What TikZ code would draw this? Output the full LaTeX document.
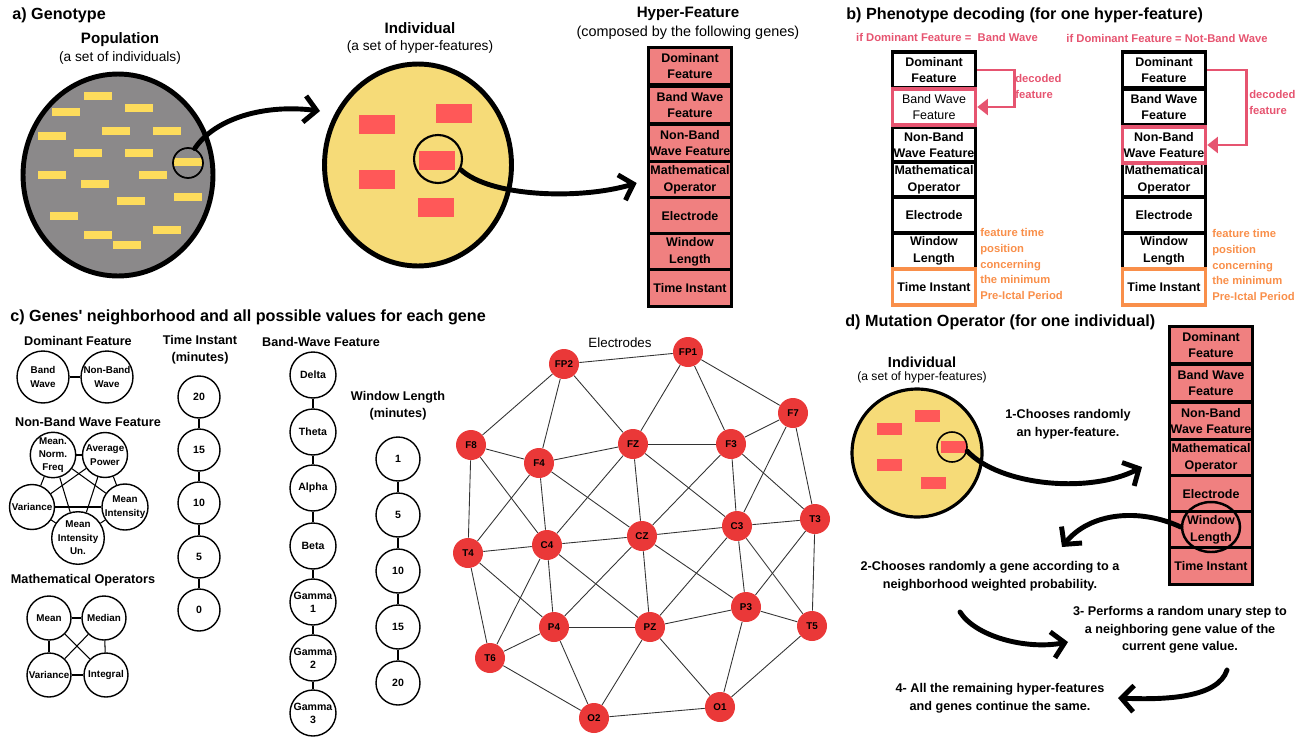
\documentclass[tikz,border=0pt]{standalone}
\usepackage{fontspec}
\setmainfont{Liberation Sans}
\usetikzlibrary{arrows.meta,shapes.geometric,positioning}

\definecolor{popgray}{RGB}{139,137,138}
\definecolor{genyellow}{RGB}{253,220,92}
\definecolor{indyellow}{RGB}{246,219,120}
\definecolor{hfred}{RGB}{255,88,88}
\definecolor{genecoral}{RGB}{240,128,128}
\definecolor{decpink}{RGB}{230,84,112}
\definecolor{timeorange}{RGB}{249,143,74}
\definecolor{elecred}{RGB}{234,56,56}

\tikzset{
  sectlbl/.style  = {anchor=west, inner sep=0, font=\bfseries\fontsize{9.2}{10}\selectfont},
  headlbl/.style  = {inner sep=0, font=\bfseries\fontsize{8.6}{10}\selectfont},
  sublbl/.style   = {inner sep=0, font=\fontsize{7.8}{9}\selectfont},
  grouplbl/.style = {inner sep=0, align=center, font=\bfseries\fontsize{7.2}{9.6}\selectfont},
  genebox/.style  = {rectangle, draw, line width=2pt, fill=genecoral, minimum width=1.66cm,
                     minimum height=0.74cm, inner sep=0, align=center,
                     font=\bfseries\fontsize{7.1}{9.4}\selectfont},
  decbox/.style   = {genebox, fill=white, minimum height=0.72cm},
  valnode/.style  = {circle, draw, line width=0.8pt, minimum size=0.88cm, inner sep=0, align=center,
                     font=\bfseries\fontsize{5.6}{7.6}\selectfont},
  elecnode/.style = {circle, fill=elecred, minimum size=0.6cm, inner sep=0,
                     font=\bfseries\fontsize{5.6}{6}\selectfont},
  glink/.style    = {line width=0.6pt},
  elink/.style    = {line width=0.5pt, black!80},
  bigarrow/.style = {line width=2.8pt, line cap=round, -{Straight Barb[length=7pt,width=15pt]}},
  decarrow/.style = {draw=decpink, line width=1.7pt, -{Triangle[length=6pt,width=9pt]}},
  notetxt/.style  = {anchor=north west, inner sep=0, align=left, font=\bfseries\fontsize{6.4}{9}\selectfont},
  steptxt/.style  = {inner sep=0, align=center, font=\bfseries\fontsize{7.2}{10}\selectfont},
}

\begin{document}
\begin{tikzpicture}[x=0.02cm, y=-0.02cm]
  \useasboundingbox (0,0) rectangle (1307,737);

  % a) genotype
  \node[sectlbl] (secA) at (12,15) {a) Genotype};
  \node[headlbl] (popT) at (120,40) {Population};
  \node[sublbl]  (popS) at (120,58) {(a set of individuals)};
  \node[ellipse, draw, line width=2.8pt, fill=popgray, minimum width=3.8cm, minimum height=4.04cm] (pop) at (118,175) {};
  \foreach \x/\y in {98/96, 66/112, 139/108, 52/136, 116/131, 167/131, 88/153, 139/153, 188/162,
                     52/175, 153/175, 95/184, 188/197, 131/201, 64/216, 167/230, 98/235, 127/245}
    \fill[genyellow] (\x-14,\y-4) rectangle (\x+14,\y+4);
  \node[circle, draw, line width=1pt, minimum size=0.6cm] (popSel) at (188,163) {};

  \node[headlbl] (indT) at (420,28) {Individual};
  \node[sublbl]  (indS) at (420,47) {(a set of hyper-features)};
  \node[ellipse, draw, line width=2.8pt, fill=indyellow, minimum width=3.74cm, minimum height=4.04cm] (ind) at (418,165) {};
  \foreach \x/\y in {377/124, 454/113, 437/160, 377/179, 436/207}
    \fill[hfred] (\x-18,\y-9.5) rectangle (\x+18,\y+9.5);
  \node[circle, draw, line width=1.2pt, minimum size=0.96cm] (indSel) at (438,159) {};

  \node[headlbl] (hypT) at (688,14) {Hyper-Feature};
  \node[sublbl, font=\fontsize{8.2}{9}\selectfont] (hypS) at (688,33) {(composed by the following genes)};
  \node[genebox] (hdom) at (690,66)  {Dominant\\Feature};
  \node[genebox] (hbw)  at (690,105) {Band Wave\\Feature};
  \node[genebox] (hnb)  at (690,143) {Non-Band\\Wave Feature};
  \node[genebox] (hmo)  at (690,180) {Mathematical\\Operator};
  \node[genebox] (hel)  at (690,216) {Electrode};
  \node[genebox] (hwl)  at (690,252) {Window\\Length};
  \node[genebox] (hti)  at (690,288) {Time Instant};

  \coordinate (indIn) at (320,111);
  \draw[bigarrow] (popSel.65) .. controls (215,118) and (265,104) .. (indIn);
  \draw[bigarrow, shorten >=6pt] (indSel.-25) .. controls (490,197) and (580,200) .. (hmo.west);

  % b) phenotype decoding
  \node[sectlbl] (secB) at (846,15) {b) Phenotype decoding (for one hyper-feature)};
  \node[inner sep=0, text=decpink, font=\bfseries\fontsize{6.4}{8}\selectfont] (ifL) at (947,37) {if Dominant Feature =~~Band Wave};
  \node[inner sep=0, text=decpink, font=\bfseries\fontsize{6.4}{8}\selectfont] (ifR) at (1167,38) {if Dominant Feature = Not-Band Wave};

  \node[decbox] (ldom) at (934,70)  {Dominant\\Feature};
  \node[decbox] (lnb)  at (934,145) {Non-Band\\Wave Feature};
  \node[decbox] (lmo)  at (934,180) {Mathematical\\Operator};
  \node[decbox] (lel)  at (934,215) {Electrode};
  \node[decbox] (lwl)  at (934,251) {Window\\Length};
  \node[decbox, draw=decpink, font=\fontsize{7.1}{9.4}\selectfont] (lbw) at (934,107) {Band Wave\\Feature};
  \node[decbox, draw=timeorange] (lti) at (934,287) {Time Instant};
  \draw[decarrow] (ldom.east) -- ++(37,0) |- (lbw.east);
  \node[notetxt, text=decpink]    (decL) at (1015,74)  {decoded\\feature};
  \node[notetxt, text=timeorange] (posL) at (980,228)  {feature time\\position\\concerning\\the minimum\\Pre-Ictal Period};

  \node[decbox] (rdom) at (1164,70)  {Dominant\\Feature};
  \node[decbox] (rbw)  at (1164,107) {Band Wave\\Feature};
  \node[decbox] (rmo)  at (1164,180) {Mathematical\\Operator};
  \node[decbox] (rel)  at (1164,215) {Electrode};
  \node[decbox] (rwl)  at (1164,251) {Window\\Length};
  \node[decbox, draw=decpink]    (rnb) at (1164,145) {Non-Band\\Wave Feature};
  \node[decbox, draw=timeorange] (rti) at (1164,287) {Time Instant};
  \draw[decarrow] (rdom.east) -- ++(39,0) |- (rnb.east);
  \node[notetxt, text=decpink]    (decR) at (1249,90)  {decoded\\feature};
  \node[notetxt, text=timeorange] (posR) at (1212,229) {feature time\\position\\concerning\\the minimum\\Pre-Ictal Period};

  % c) genes' neighborhood
  \node[sectlbl] (secC) at (10,317) {c) Genes\textquotesingle{} neighborhood and all possible values for each gene};

  \node[grouplbl] (domT) at (78,341) {Dominant Feature};
  \node[valnode, minimum size=1.04cm] (dBand) at (43,377)  {Band\\Wave};
  \node[valnode, minimum size=1.04cm] (dNon)  at (107,377) {Non-Band\\Wave};
  \draw[glink] (dBand) -- (dNon);

  \node[grouplbl] (nbT) at (88,422) {Non-Band Wave Feature};
  \node[valnode, minimum size=0.9cm] (nMNF) at (53,455)  {Mean.\\Norm.\\Freq};
  \node[valnode, minimum size=0.9cm] (nAP)  at (105,455) {Average\\Power};
  \node[valnode, minimum size=0.9cm] (nVar) at (32,507)  {Variance};
  \node[valnode, minimum size=0.9cm] (nMI)  at (125,507) {Mean\\Intensity};
  \node[valnode, minimum size=0.9cm] (nMIU) at (78,538)  {Mean\\Intensity\\Un.};
  \foreach \a/\b in {nMNF/nAP, nMNF/nVar, nMNF/nMI, nMNF/nMIU, nAP/nVar, nAP/nMI, nAP/nMIU,
                     nVar/nMI, nVar/nMIU, nMI/nMIU}
    \draw[glink] (\a) -- (\b);

  \node[grouplbl] (opT) at (83,580) {Mathematical Operators};
  \node[valnode] (oMean) at (49,618)  {Mean};
  \node[valnode] (oMed)  at (104,618) {Median};
  \node[valnode] (oVar)  at (49,675)  {Variance};
  \node[valnode] (oInt)  at (106,675) {Integral};
  \foreach \a/\b in {oMean/oMed, oMean/oVar, oMed/oInt, oVar/oInt, oMean/oInt, oMed/oVar}
    \draw[glink] (\a) -- (\b);

  \node[grouplbl] (tiT) at (200,350) {Time Instant\\(minutes)};
  \node[valnode, minimum size=0.84cm, font=\bfseries\fontsize{6}{7}\selectfont] (t20) at (199,397) {20};
  \node[valnode, minimum size=0.84cm, font=\bfseries\fontsize{6}{7}\selectfont] (t15) at (199,450) {15};
  \node[valnode, minimum size=0.84cm, font=\bfseries\fontsize{6}{7}\selectfont] (t10) at (199,503) {10};
  \node[valnode, minimum size=0.84cm, font=\bfseries\fontsize{6}{7}\selectfont] (t5)  at (199,557) {5};
  \node[valnode, minimum size=0.84cm, font=\bfseries\fontsize{6}{7}\selectfont] (t0)  at (199,610) {0};
  \draw[glink] (t20) -- (t15) -- (t10) -- (t5) -- (t0);

  \node[grouplbl] (bwT) at (321,342) {Band-Wave Feature};
  \node[valnode, minimum size=0.92cm, font=\bfseries\fontsize{6}{7.4}\selectfont] (bDel) at (313,375) {Delta};
  \node[valnode, minimum size=0.92cm, font=\bfseries\fontsize{6}{7.4}\selectfont] (bThe) at (313,432) {Theta};
  \node[valnode, minimum size=0.92cm, font=\bfseries\fontsize{6}{7.4}\selectfont] (bAlp) at (313,488) {Alpha};
  \node[valnode, minimum size=0.92cm, font=\bfseries\fontsize{6}{7.4}\selectfont] (bBet) at (313,546) {Beta};
  \node[valnode, minimum size=0.92cm, font=\bfseries\fontsize{6}{7.4}\selectfont] (bGa1) at (313,602) {Gamma\\1};
  \node[valnode, minimum size=0.92cm, font=\bfseries\fontsize{6}{7.4}\selectfont] (bGa2) at (313,658) {Gamma\\2};
  \node[valnode, minimum size=0.92cm, font=\bfseries\fontsize{6}{7.4}\selectfont] (bGa3) at (313,713) {Gamma\\3};
  \draw[glink] (bDel) -- (bThe) -- (bAlp) -- (bBet) -- (bGa1) -- (bGa2) -- (bGa3);

  \node[grouplbl] (wlT) at (398,406) {Window Length\\(minutes)};
  \node[valnode, font=\bfseries\fontsize{6}{7}\selectfont] (w1)  at (398,459) {1};
  \node[valnode, font=\bfseries\fontsize{6}{7}\selectfont] (w5)  at (398,515) {5};
  \node[valnode, font=\bfseries\fontsize{6}{7}\selectfont] (w10) at (398,571) {10};
  \node[valnode, font=\bfseries\fontsize{6}{7}\selectfont] (w15) at (398,627) {15};
  \node[valnode, font=\bfseries\fontsize{6}{7}\selectfont] (w20) at (398,683) {20};
  \draw[glink] (w1) -- (w5) -- (w10) -- (w15) -- (w20);

  % electrodes
  \node[inner sep=0, font=\fontsize{7.6}{9}\selectfont] (elT) at (620,343) {Electrodes};
  \node[elecnode] (FP1) at (688,352) {FP1};
  \node[elecnode] (FP2) at (564,364) {FP2};
  \node[elecnode] (F7)  at (793,413) {F7};
  \node[elecnode] (F8)  at (471,445) {F8};
  \node[elecnode] (F4)  at (539,463) {F4};
  \node[elecnode] (FZ)  at (633,444) {FZ};
  \node[elecnode] (F3)  at (731,444) {F3};
  \node[elecnode] (T3)  at (815,519) {T3};
  \node[elecnode] (C3)  at (737,526) {C3};
  \node[elecnode] (CZ)  at (642,536) {CZ};
  \node[elecnode] (C4)  at (547,545) {C4};
  \node[elecnode] (T4)  at (468,553) {T4};
  \node[elecnode] (P3)  at (746,607) {P3};
  \node[elecnode] (T5)  at (812,626) {T5};
  \node[elecnode] (PZ)  at (650,627) {PZ};
  \node[elecnode] (P4)  at (554,627) {P4};
  \node[elecnode] (T6)  at (490,658) {T6};
  \node[elecnode] (O1)  at (720,707) {O1};
  \node[elecnode] (O2)  at (594,718) {O2};
  \foreach \a/\b in {FP2/FP1, FP2/F8, FP2/F4, FP2/FZ, FP1/FZ, FP1/F3, FP1/F7, F7/F3, F7/C3, F7/T3,
                     F8/F4, F8/T4, F8/C4, F4/FZ, F4/T4, F4/C4, F4/CZ, FZ/F3, FZ/C4, FZ/CZ, FZ/C3,
                     F3/CZ, F3/C3, F3/T3, T3/C3, T3/P3, T3/T5, C3/CZ, C3/P3, C3/T5, C3/PZ,
                     CZ/C4, CZ/P4, CZ/PZ, CZ/P3, C4/T4, C4/P4, C4/PZ, C4/T6, T4/T6, T4/P4,
                     P4/PZ, P4/T6, P4/O2, PZ/P3, PZ/O2, PZ/O1, P3/T5, P3/O1, T5/O1, T6/O2, O2/O1}
    \draw[elink] (\a) -- (\b);

  % d) mutation operator
  \node[sectlbl] (secD) at (845,322) {d) Mutation Operator (for one individual)};
  \node[headlbl, font=\bfseries\fontsize{8.3}{10}\selectfont] (dIndT) at (922,362) {Individual};
  \node[sublbl, font=\fontsize{6.9}{8}\selectfont] (dIndS) at (922,377) {(a set of hyper-features)};
  \node[ellipse, draw, line width=1.8pt, fill=indyellow, minimum width=2.6cm, minimum height=2.56cm] (dind) at (917,453) {};
  \foreach \x/\y in {889/429, 927/416, 953/447, 889/465, 933/483}
    \fill[hfred] (\x-12.5,\y-6) rectangle (\x+12.5,\y+6);
  \node[circle, draw, line width=0.9pt, minimum size=0.6cm] (dSel) at (952,447) {};

  \node[genebox] (mdom) at (1211,345) {Dominant\\Feature};
  \node[genebox] (mbw)  at (1211,383) {Band Wave\\Feature};
  \node[genebox] (mnb)  at (1211,421) {Non-Band\\Wave Feature};
  \node[genebox] (mmo)  at (1211,458) {Mathematical\\Operator};
  \node[genebox] (mel)  at (1211,494) {Electrode};
  \node[genebox] (mwl)  at (1211,530) {Window\\Length};
  \node[genebox] (mti)  at (1211,566) {Time Instant};
  \node[ellipse, draw, line width=1.4pt, minimum width=1.16cm, minimum height=1.0cm] (wlRing) at (1211,527) {};

  \node[steptxt] (s1) at (1068,424) {1-Chooses randomly\\an hyper-feature.};
  \node[steptxt] (s2) at (990,576)  {2-Chooses randomly a gene according to a\\neighborhood weighted probability.};
  \node[steptxt] (s3) at (1180,630) {3- Performs a random unary step to\\a neighboring gene value of the\\current gene value.};
  \node[steptxt] (s4) at (1000,698) {4- All the remaining hyper-features\\and genes continue the same.};

  \coordinate (pickEnd) at (1142,467);
  \coordinate (geneEnd) at (1062,547);
  \coordinate (stepA)   at (960,612);
  \coordinate (stepB)   at (1068,642);
  \coordinate (keepA)   at (1227,670);
  \coordinate (keepB)   at (1118,698);
  \draw[bigarrow] (dSel.-15) .. controls (1000,486) and (1090,494) .. (pickEnd);
  \draw[bigarrow] (wlRing.west) .. controls (1140,508) and (1090,512) .. (geneEnd);
  \draw[bigarrow] (stepA) .. controls (975,636) and (1025,650) .. (stepB);
  \draw[bigarrow] (keepA) .. controls (1218,698) and (1165,700) .. (keepB);
\end{tikzpicture}
\end{document}
